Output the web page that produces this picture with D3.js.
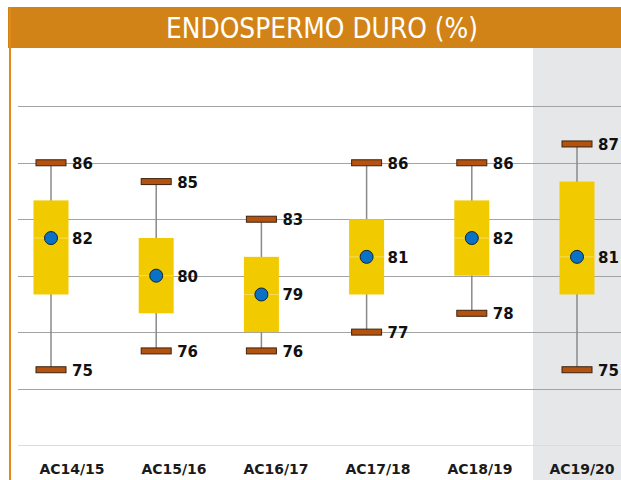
<!DOCTYPE html>
<html>
<head>
<meta charset="utf-8">
<script src="https://cdn.jsdelivr.net/npm/d3@7"></script>
<style>
  html, body { margin: 0; padding: 0; background: #fff; }
  svg { display: block; }
</style>
</head>
<body>
<svg id="chart" width="621" height="480"></svg>
<script>
const categories = ["AC14/15", "AC15/16", "AC16/17", "AC17/18", "AC18/19", "AC19/20"];
const maxVals  = [86, 85, 83, 86, 86, 87];
const q3Vals   = [84, 82, 81, 83, 84, 85];
const meanVals = [82, 80, 79, 81, 82, 81];
const q1Vals   = [79, 78, 77, 79, 80, 79];
const minVals  = [75, 76, 76, 77, 78, 75];
const gridTicks = [71, 74, 77, 80, 83, 86, 89];
const title = "ENDOSPERMO DURO (%)";

const svg = d3.select("#chart");
const W = 621, H = 480;

const y = d3.scaleLinear().domain([71, 92.1]).range([445, 48]);
const x = d3.scalePoint().domain(categories).range([51, 577]);
const xLab = d3.scalePoint().domain(categories).range([72, 582]);

// highlighted last season background
svg.append("rect")
  .attr("x", 533).attr("y", 48).attr("width", W - 533).attr("height", H - 48)
  .attr("fill", "#e6e7e9");

// gridlines
svg.append("g").selectAll("line").data(gridTicks).join("line")
  .attr("x1", 18).attr("x2", W)
  .attr("y1", d => Math.round(y(d)) + 0.5).attr("y2", d => Math.round(y(d)) + 0.5)
  .attr("stroke", d => d === 71 ? "#dcdcdc" : "#a3a3a3")
  .attr("stroke-width", 1);

// title bar
svg.append("rect").attr("x", 8).attr("y", 7).attr("width", W - 8).attr("height", 41)
  .attr("fill", "#d28318");
svg.append("rect").attr("x", 9).attr("y", 7).attr("width", 2).attr("height", H - 7)
  .attr("fill", "#e08a1e");
svg.append("text")
  .attr("x", 322).attr("y", 28)
  .attr("text-anchor", "middle").attr("dominant-baseline", "central")
  .attr("font-family", "'Liberation Sans Narrow', 'DejaVu Sans Condensed', sans-serif")
  .attr("font-size", 28)
  .attr("textLength", 312).attr("lengthAdjust", "spacingAndGlyphs")
  .attr("fill", "#ffffff")
  .text(title);

const data = categories.map((c, i) => ({
  cat: c, max: maxVals[i], q3: q3Vals[i], mean: meanVals[i], q1: q1Vals[i], min: minVals[i]
}));

const g = svg.append("g");
const items = g.selectAll("g.item").data(data).join("g").attr("class", "item");

// whiskers
items.append("line")
  .attr("x1", d => x(d.cat)).attr("x2", d => x(d.cat))
  .attr("y1", d => y(d.max)).attr("y2", d => y(d.min))
  .attr("stroke", "#8a8a8a").attr("stroke-width", 1.5);

// boxes
const boxW = 35;
items.append("rect")
  .attr("x", d => x(d.cat) - boxW / 2).attr("width", boxW)
  .attr("y", d => y(d.q3)).attr("height", d => y(d.q1) - y(d.q3))
  .attr("fill", "#f2ca00");
items.append("line")
  .attr("x1", d => x(d.cat) - boxW / 2).attr("x2", d => x(d.cat) + boxW / 2)
  .attr("y1", d => y(d.mean)).attr("y2", d => y(d.mean))
  .attr("stroke", "#f6dc5e").attr("stroke-width", 1);

// caps
const capW = 30, capH = 6;
["max", "min"].forEach(k => {
  items.append("rect")
    .attr("x", d => x(d.cat) - capW / 2).attr("width", capW)
    .attr("y", d => y(d[k]) - capH / 2).attr("height", capH)
    .attr("fill", "#b4520f").attr("stroke", "#3b2410").attr("stroke-width", 1);
});

// mean dots
items.append("circle")
  .attr("cx", d => x(d.cat)).attr("cy", d => y(d.mean)).attr("r", 6.5)
  .attr("fill", "#0a72c4").attr("stroke", "#10243a").attr("stroke-width", 1);

// value labels
["max", "mean", "min"].forEach(k => {
  items.append("text")
    .attr("x", d => x(d.cat) + 21).attr("y", d => y(d[k]) + 1)
    .attr("dominant-baseline", "central")
    .attr("font-family", "'DejaVu Sans', sans-serif").attr("font-weight", "bold")
    .attr("font-size", 15).attr("fill", "#111")
    .text(d => d[k]);
});

// category labels
svg.append("g").selectAll("text").data(categories).join("text")
  .attr("x", d => xLab(d)).attr("y", 474)
  .attr("text-anchor", "middle")
  .attr("font-family", "'DejaVu Sans', sans-serif").attr("font-weight", "bold")
  .attr("font-size", 14).attr("fill", "#1a1a1a")
  .text(d => d);
</script>
</body>
</html>
